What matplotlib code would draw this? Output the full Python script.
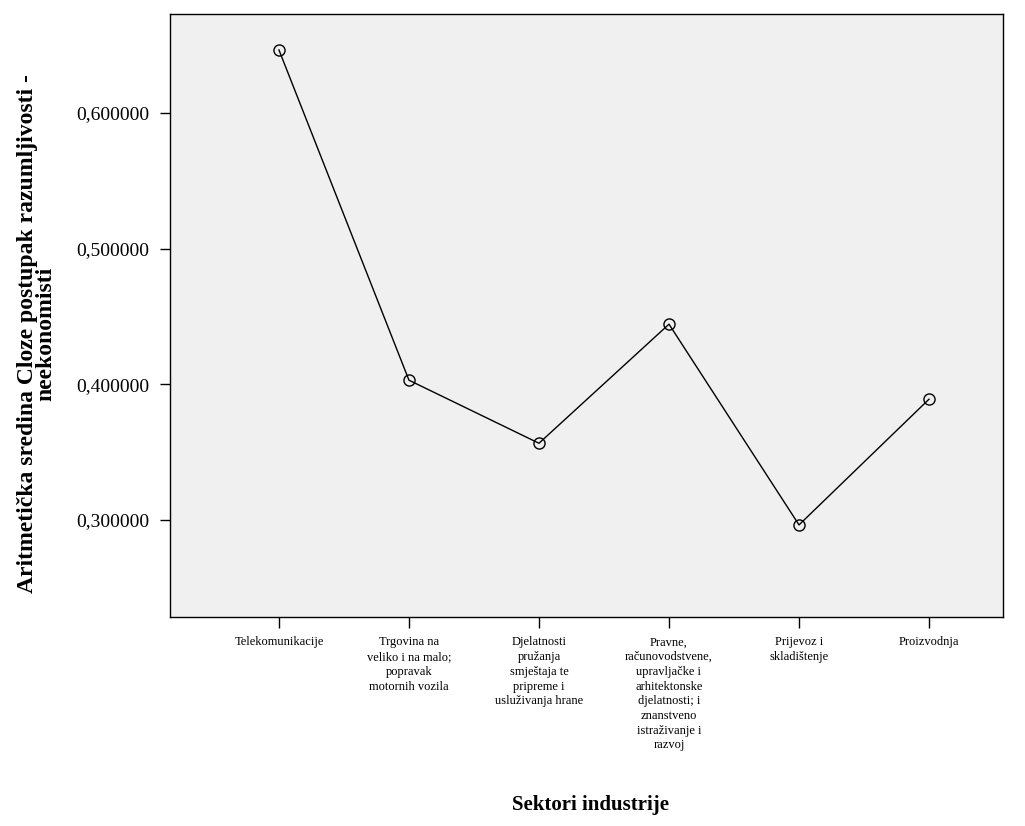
import matplotlib
matplotlib.use('Agg')
import matplotlib.pyplot as plt
from matplotlib.ticker import FuncFormatter

sektori = ['Telekomunikacije',
           'Trgovina na\nveliko i na malo;\npopravak\nmotornih vozila',
           'Djelatnosti\npružanja\nsmještaja te\npripreme i\nusluživanja hrane',
           'Pravne,\nračunovodstvene,\nupravljačke i\narhitektonske\ndjelatnosti; i\nznanstveno\nistraživanje i\nrazvoj',
           'Prijevoz i\nskladištenje',
           'Proizvodnja']
sredine = [0.6465, 0.4030, 0.3565, 0.4443, 0.2963, 0.3890]
yticks = [0.3, 0.4, 0.5, 0.6]

plt.rcParams['font.family'] = ['Liberation Serif', 'DejaVu Serif']

fig = plt.figure(figsize=(10.25, 8.26), dpi=100)
ax = fig.add_axes([170/1025, 1-617/826, (1003-170)/1025, (617-14)/826])
ax.set_facecolor('#f0f0f0')

x = list(range(len(sektori)))
ax.plot(x, sredine, color='black', linewidth=1, marker='o', markersize=8,
        markerfacecolor='none', markeredgecolor='black', markeredgewidth=1)

ax.set_xlim(-0.838, 5.569)
ax.set_ylim(0.2284, 0.673)
ax.set_xticks(x)
ax.set_xticklabels(sektori, fontsize=9, linespacing=1.3, va='top')
ax.set_yticks(yticks)
ax.yaxis.set_major_formatter(FuncFormatter(lambda v, p: ('%.6f' % v).replace('.', ',')))
ax.tick_params(axis='y', labelsize=14, direction='out', length=7, width=1, pad=8)
ax.tick_params(axis='x', direction='out', length=8, width=1, pad=6)
for s in ax.spines.values():
    s.set_linewidth(1)

ax.set_ylabel('Aritmetička sredina Cloze postupak razumljivosti -\nneekonomisti',
              fontsize=17, fontweight='bold', linespacing=0.8)
ax.yaxis.set_label_coords(-0.137, 0.47)
fig.text(590/1025, 1-805/826, 'Sektori industrije', fontsize=15, fontweight='bold',
         ha='center', va='center')

fig.savefig('out.png', dpi=100)
